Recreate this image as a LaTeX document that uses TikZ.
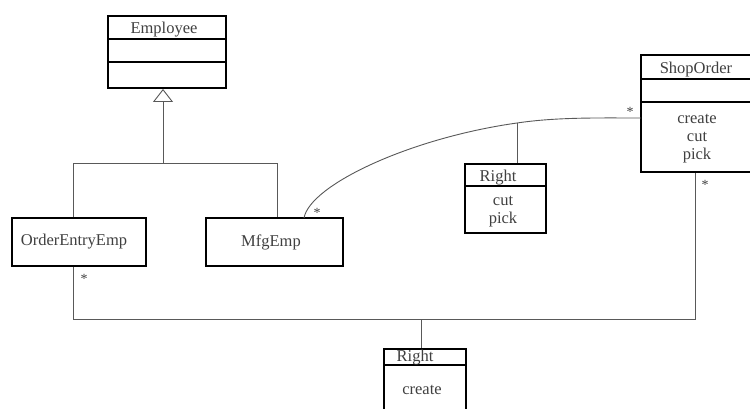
\documentclass[tikz,border=0pt]{standalone}
\usepackage{fontspec}
\setmainfont{Liberation Serif}
\usetikzlibrary{arrows.meta}
\begin{document}
\begin{tikzpicture}[x=1pt,y=-1pt,
  box/.style={draw=black, line width=1.9pt, inner sep=0pt},
  divider/.style={draw=black, line width=1.9pt},
  conn/.style={draw=black!65, line width=0.9pt},
  txt/.style={text=black!75, font=\fontsize{16.5}{18}\selectfont, inner sep=0pt, align=center},
  mult/.style={text=black!75, font=\fontsize{14}{14}\selectfont, inner sep=0pt}]
\useasboundingbox (0,0) rectangle (750,408);
\fill[white] (0,0) rectangle (750,408);

% classes
\node[box, minimum width=118pt, minimum height=72pt] (emp) at (167,52) {};
\draw[divider] ([yshift=-24pt]emp.north west) -- ([yshift=-24pt]emp.north east);
\draw[divider] ([yshift=-47pt]emp.north west) -- ([yshift=-47pt]emp.north east);
\node[txt] (empname) at (164,30) {Employee};

\node[box, minimum width=134pt, minimum height=48pt] (oee) at (79,242) {};
\node[txt] (oeename) at (74,242) {OrderEntryEmp};

\node[box, minimum width=137pt, minimum height=48pt] (mfg) at (274.5,242) {};
\node[txt] (mfgname) at (271,242) {MfgEmp};

\node[box, minimum width=125pt, minimum height=117pt] (shop) at (703.5,113.5) {};
\draw[divider] ([yshift=-25pt]shop.north west) -- ([yshift=-25pt]shop.north east);
\draw[divider] ([yshift=-48pt]shop.north west) -- ([yshift=-48pt]shop.north east);
\node[txt] (shopname) at (696,70) {ShopOrder};
\node[txt] (shopops) at (697,139) {create\\cut\\pick};

\node[draw=black, line width=1.3pt, minimum width=81pt, minimum height=69pt, inner sep=0pt] (r1) at (505.5,198.5) {};
\draw[divider] ([yshift=-23pt]r1.north west) -- ([yshift=-23pt]r1.north east);
\node[txt] (r1name) at (498,178) {Right};
\node[txt] (r1ops) at (503,212) {cut\\pick};

\node[draw=black, line width=1.3pt, minimum width=82pt, minimum height=72pt, inner sep=0pt] (r2) at (425,385) {};
\draw[divider] ([yshift=-17pt]r2.north west) -- ([yshift=-17pt]r2.north east);
\node[txt] (r2name) at (415,358) {Right};
\node[txt] (r2ops) at (422,390) {create};

% generalization
\coordinate (gl) at (73,163);
\coordinate (gr) at (277,163);
\coordinate (gm) at (163,163);
\draw[conn] (oee.north -| gl) -- (gl) -- (gr) -- (mfg.north -| gr);
\draw[conn, -{Triangle[open, length=13pt, width=20pt, line width=0.9pt]}] (gm) -- (emp.south -| gm);

% association OrderEntryEmp - ShopOrder
\coordinate (a1) at (73,319);
\coordinate (a2) at (695,319);
\coordinate (a3) at (421,319);
\draw[conn] (oee.south -| a1) -- (a1) -- (a2) -- (shop.south -| a2);
\draw[conn] (a3) -- (r2.north -| a3);

% association MfgEmp - ShopOrder
\coordinate (m0) at (304,218);
\coordinate (m1) at (517,123);
\coordinate (m2) at (641,118);
\draw[conn] (m0) .. controls (310,185) and (410,138) .. (m1) .. controls (557,117) and (600,118) .. (m2);
\draw[conn] (m1) -- (r1.north -| m1);

% multiplicities
\node[mult] (s1) at (84,279) {*};
\node[mult] (s2) at (317,213) {*};
\node[mult] (s3) at (630,112) {*};
\node[mult] (s4) at (705,185) {*};
\end{tikzpicture}
\end{document}
